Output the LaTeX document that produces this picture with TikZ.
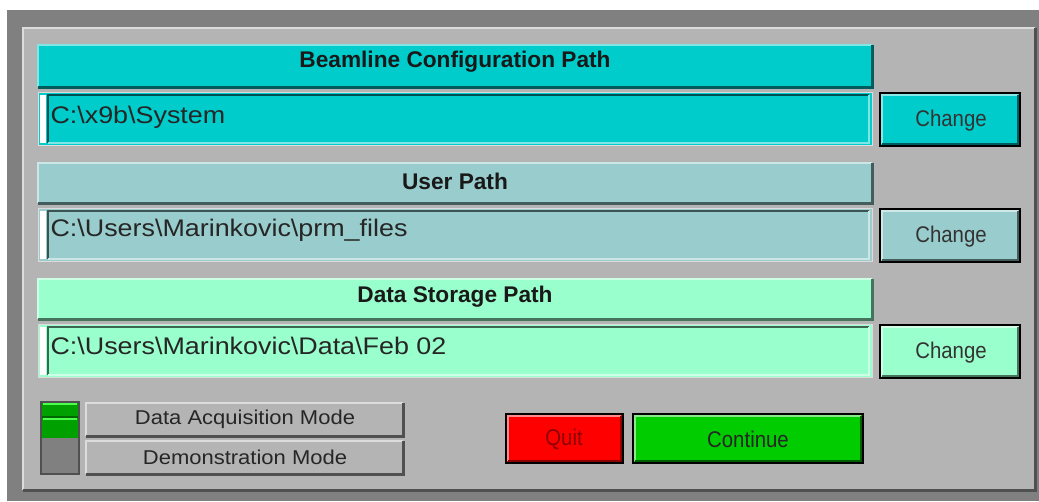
\documentclass[tikz,border=0pt]{standalone}
\usepackage{fontspec}
\setmainfont{Liberation Sans}
\newfontfamily\fieldfont[FakeStretch=1.12]{Liberation Sans}
\newfontfamily\btnfont[FakeStretch=0.9]{Liberation Sans}
\newfontfamily\modefont[FakeStretch=1.1]{Liberation Sans}

\definecolor{outergray}{HTML}{808080}
\definecolor{panelgray}{HTML}{B4B4B4}
\definecolor{edgelite}{HTML}{DCDCDC}
\definecolor{edgedark}{HTML}{505050}
\definecolor{beambg}{HTML}{00CCCC}
\definecolor{userbg}{HTML}{99CCCC}
\definecolor{databg}{HTML}{99FFCC}
\definecolor{quitred}{HTML}{FF0000}
\definecolor{gogreen}{HTML}{00CC00}
\definecolor{togglegreen}{HTML}{00A000}

\tikzset{every picture/.style={line width=0.75pt}}
\tikzset{
  litedge/.style={draw=#1, line width=1.5pt},
  darkedge/.style={draw=#1, line width=2.25pt},
  headtext/.style={inner sep=0.75pt, font=\bfseries\fontsize{17}{19}\selectfont, text=black!90},
  fieldtext/.style={anchor=west, inner sep=0.75pt, font=\fieldfont\fontsize{18}{20}\selectfont, text=black!85},
  btntext/.style={inner sep=0.75pt, font=\btnfont\fontsize{17}{19}\selectfont, text=black!80},
  modetext/.style={inner sep=0.75pt, font=\modefont\fontsize{15}{17}\selectfont, text=black!85},
  btnframe/.style={draw=black, line width=1.2pt},
}

\begin{document}
\begin{tikzpicture}[x=0.75pt,y=0.75pt,yscale=-1,xscale=1]
\useasboundingbox (0,0) rectangle (1039,501);

%Shape: Window frame
\fill[outergray] (7,10) rectangle (1039,501);
%Shape: Panel
\fill[panelgray] (23,28) rectangle (1035,490);
\draw[litedge=edgelite] (23,490) -- (23,28) -- (1035,28);
\draw[darkedge=edgedark] (23,490) -- (1035,490) -- (1035,28);

%% ---- Beamline configuration ----
%Shape: Header
\fill[beambg] (38,45) rectangle (872,87);
\draw[litedge=beambg!50!white] (38,87) -- (38,45) -- (872,45);
\draw[darkedge=beambg!45!black] (38,87) -- (872,87) -- (872,45);
%Shape: Field
\fill[beambg] (38,92) rectangle (872,145);
\draw[edgelite] (38,92) rectangle (872,145);
\fill[white] (40,95) rectangle (46,143);
\draw[line width=1.5pt, beambg!40!black] (48,143) -- (48,95) -- (869,95);
\draw[line width=1.5pt, beambg!50!white] (48,143) -- (869,143) -- (869,95);
%Shape: Button
\fill[beambg] (880,93) rectangle (1020,146);
\draw[litedge=beambg!45!white] (882,144) -- (882,95) -- (1018,95);
\draw[darkedge=beambg!45!black] (882,144) -- (1018,144) -- (1018,95);
\draw[btnframe] (880,93) rectangle (1020,146);

% Text Node
\node[headtext] (beamhead) at (455,62) {Beamline Configuration Path};
% Text Node
\node[fieldtext] (beampath) at (49,117) {C:\textbackslash x9b\textbackslash System};
% Text Node
\node[btntext] (beamchange) at (951,121) {Change};

%% ---- User path ----
%Shape: Header
\fill[userbg] (38,163) rectangle (872,203);
\draw[litedge=userbg!50!white] (38,203) -- (38,163) -- (872,163);
\draw[darkedge=userbg!45!black] (38,203) -- (872,203) -- (872,163);
%Shape: Field
\fill[userbg] (38,208) rectangle (872,261);
\draw[edgelite] (38,208) rectangle (872,261);
\fill[white] (40,211) rectangle (46,259);
\draw[line width=1.5pt, userbg!40!black] (48,259) -- (48,211) -- (869,211);
\draw[line width=1.5pt, userbg!50!white] (48,259) -- (869,259) -- (869,211);
%Shape: Button
\fill[userbg] (880,209) rectangle (1020,262);
\draw[litedge=userbg!45!white] (882,260) -- (882,211) -- (1018,211);
\draw[darkedge=userbg!45!black] (882,260) -- (1018,260) -- (1018,211);
\draw[btnframe] (880,209) rectangle (1020,262);

% Text Node
\node[headtext] (userhead) at (455,181) {User Path};
% Text Node
\node[fieldtext] (userpath) at (49,230) {C:\textbackslash Users\textbackslash Marinkovic\textbackslash prm\_files};
% Text Node
\node[btntext] (userchange) at (951,237) {Change};

%% ---- Data storage ----
%Shape: Header
\fill[databg] (38,279) rectangle (872,319);
\draw[litedge=databg!50!white] (38,319) -- (38,279) -- (872,279);
\draw[darkedge=databg!45!black] (38,319) -- (872,319) -- (872,279);
%Shape: Field
\fill[databg] (38,324) rectangle (872,377);
\draw[edgelite] (38,324) rectangle (872,377);
\fill[white] (40,327) rectangle (46,375);
\draw[line width=1.5pt, databg!40!black] (48,375) -- (48,327) -- (869,327);
\draw[line width=1.5pt, databg!50!white] (48,375) -- (869,375) -- (869,327);
%Shape: Button
\fill[databg] (880,325) rectangle (1020,378);
\draw[litedge=databg!45!white] (882,376) -- (882,327) -- (1018,327);
\draw[darkedge=databg!45!black] (882,376) -- (1018,376) -- (1018,327);
\draw[btnframe] (880,325) rectangle (1020,378);

% Text Node
\node[headtext] (datahead) at (455,297) {Data Storage Path};
% Text Node
\node[fieldtext] (datapath) at (49,346) {C:\textbackslash Users\textbackslash Marinkovic\textbackslash Data\textbackslash Feb 02};
% Text Node
\node[btntext] (datachange) at (951,353) {Change};

%% ---- Mode switch ----
%Shape: Toggle
\fill[outergray] (41,402) rectangle (79,474);
\fill[togglegreen] (41,402) rectangle (79,438);
\draw[line width=1.5pt, green!70!white] (43,404) -- (77,404);
\draw[line width=1.5pt, green!70!white] (43,419) -- (77,419);
\draw[line width=1.5pt, black!60!green] (41,417) -- (79,417);
\draw[line width=1.2pt, edgedark] (41,402) rectangle (79,474);
%Shape: Mode buttons
\draw[litedge=edgelite] (86,436) -- (86,403) -- (403,403);
\draw[darkedge=edgedark] (86,436) -- (403,436) -- (403,403);
\draw[litedge=edgelite] (86,474) -- (86,441) -- (403,441);
\draw[darkedge=edgedark] (86,474) -- (403,474) -- (403,441);

% Text Node
\node[modetext] (acqmode) at (245,419) {Data Acquisition Mode};
% Text Node
\node[modetext] (demomode) at (245,457) {Demonstration Mode};

%% ---- Quit / Continue ----
%Shape: Quit
\fill[quitred] (506,414) rectangle (623,463);
\draw[litedge=quitred!45!white] (508,461) -- (508,416) -- (621,416);
\draw[darkedge=quitred!55!black] (508,461) -- (621,461) -- (621,416);
\draw[btnframe] (506,414) rectangle (623,463);
%Shape: Continue
\fill[gogreen] (633,414) rectangle (863,463);
\draw[litedge=gogreen!45!white] (635,461) -- (635,416) -- (861,416);
\draw[darkedge=gogreen!45!black] (635,461) -- (861,461) -- (861,416);
\draw[btnframe] (633,414) rectangle (863,463);

% Text Node
\node[btntext, text=quitred!55!black] (quit) at (564,439) {Quit};
% Text Node
\node[btntext, text=black!85] (continue) at (748,439) {Continue};

\end{tikzpicture}
\end{document}
